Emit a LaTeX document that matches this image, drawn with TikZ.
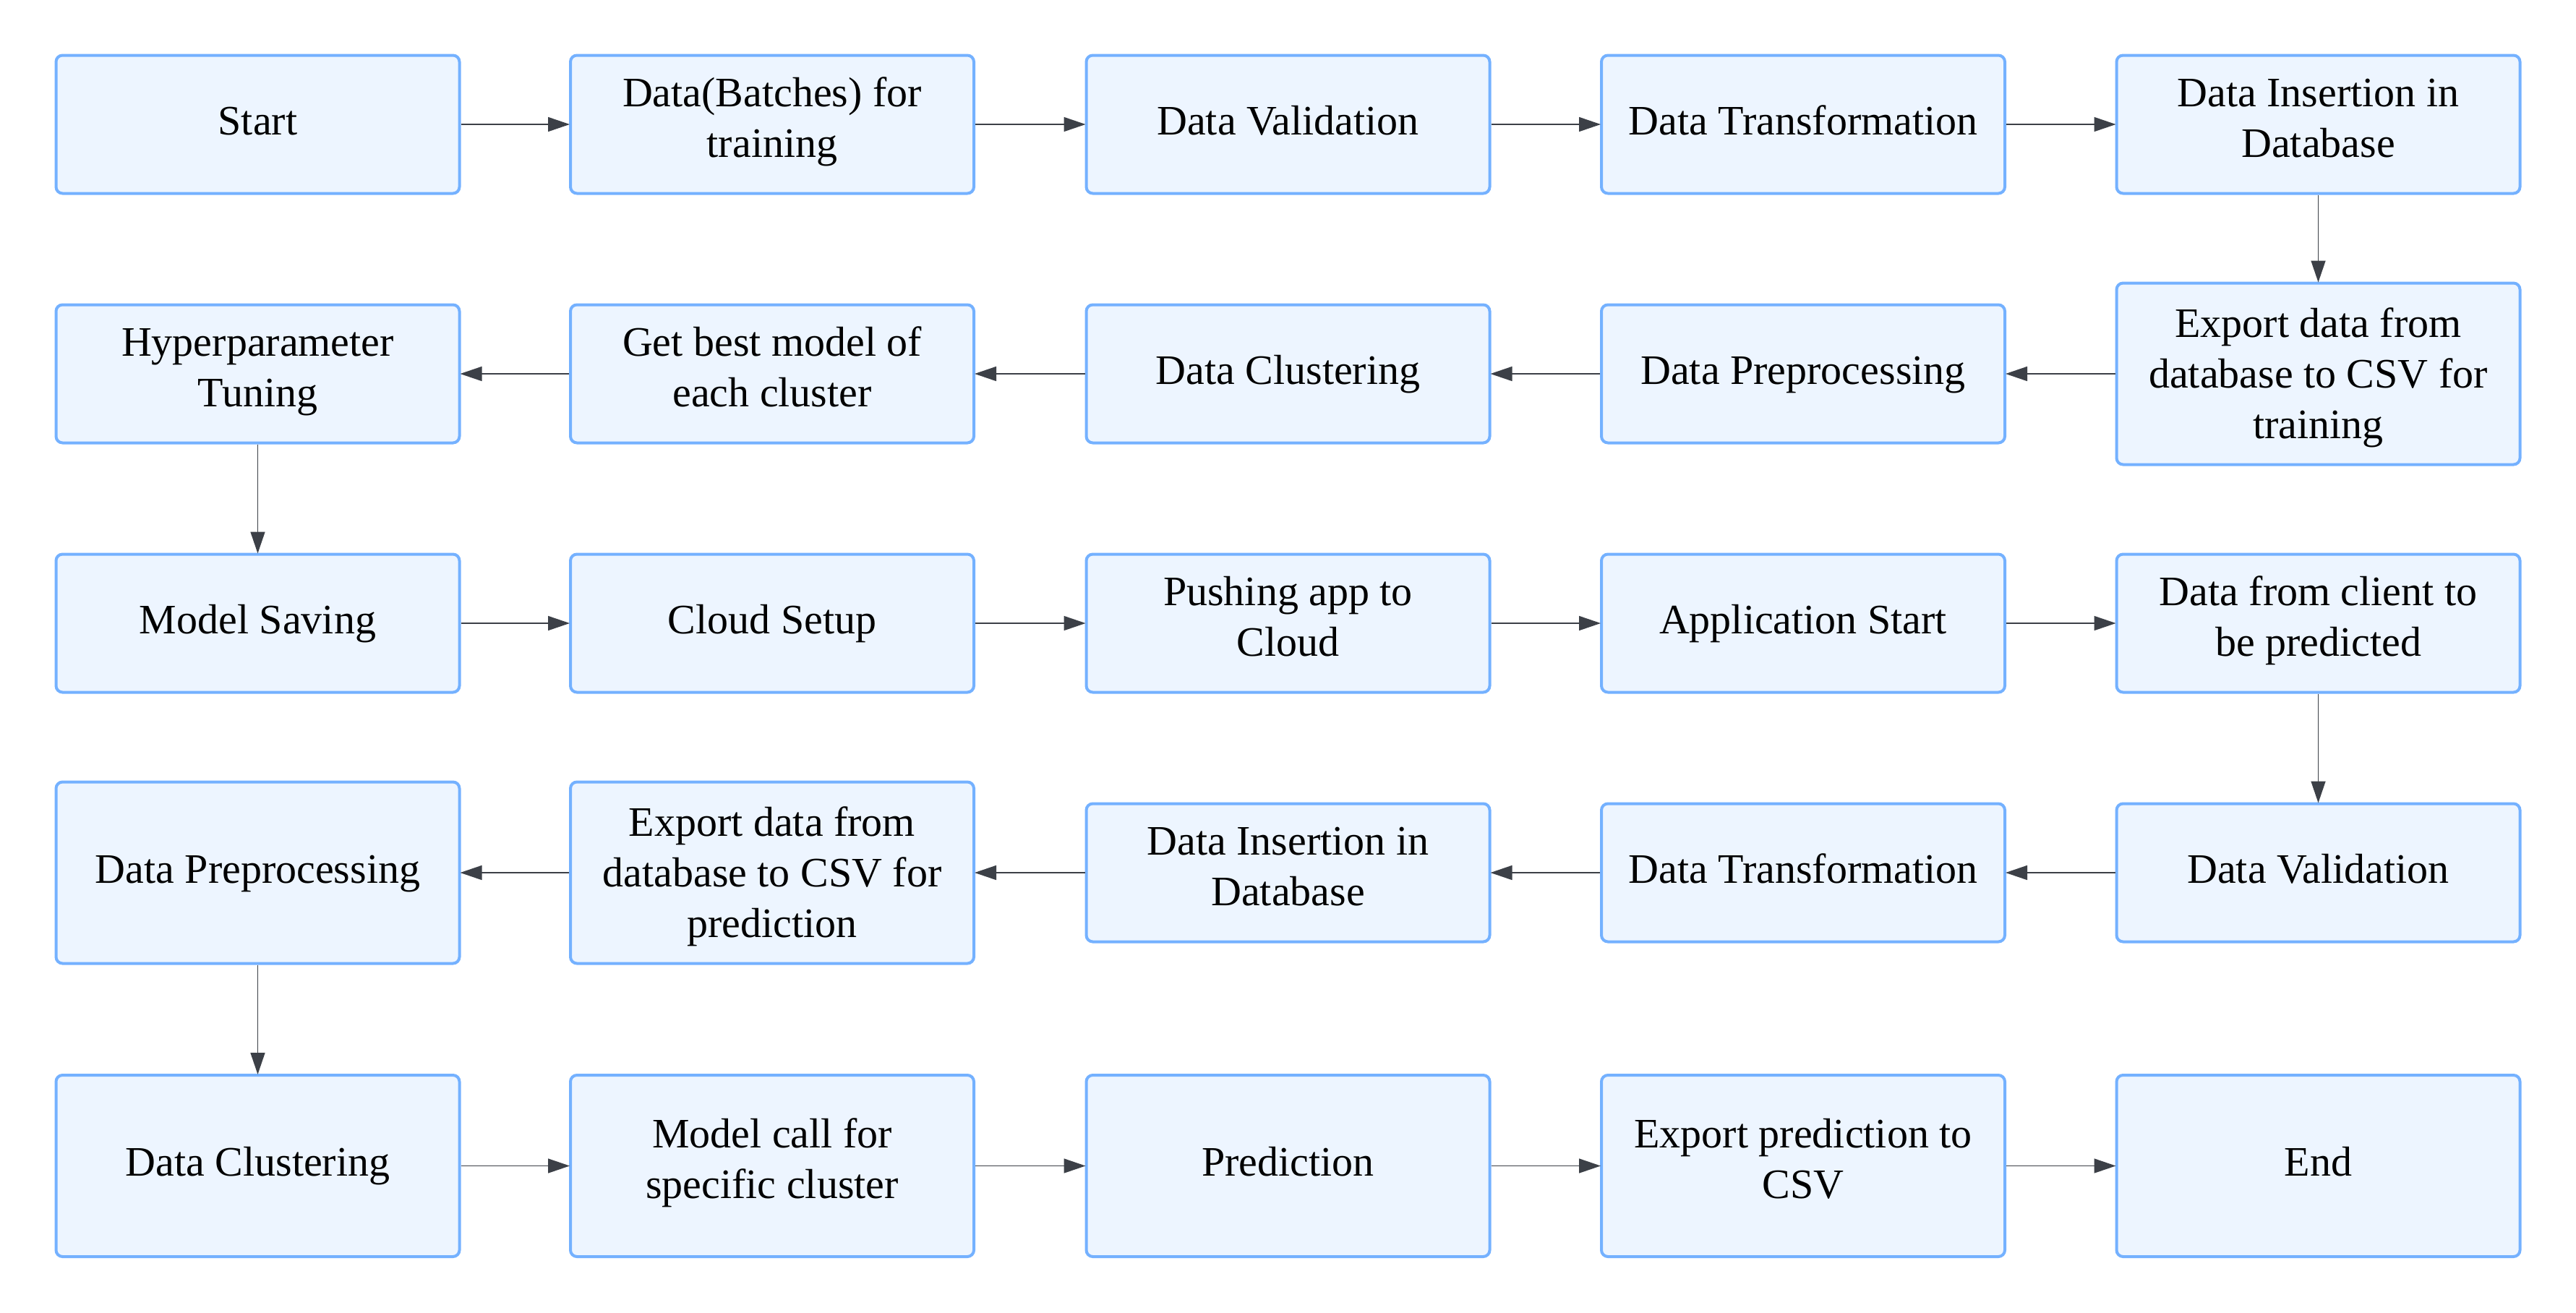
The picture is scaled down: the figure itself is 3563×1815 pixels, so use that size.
\documentclass[tikz,border=0pt]{standalone}
\usepackage{fontspec}
\setmainfont{Liberation Serif}
\usetikzlibrary{arrows.meta}
\definecolor{boxblue}{HTML}{74B1FF}
\definecolor{boxfill}{HTML}{EDF5FF}
\definecolor{arrowgray}{HTML}{3C4047}
\tikzset{
  box/.style={draw=boxblue, fill=boxfill, line width=4pt, rounded corners=9pt,
    minimum width=558pt, minimum height=191pt, align=center, inner sep=0pt,
    font=\fontsize{58}{70}\selectfont,
    execute at begin node={\rule{0pt}{50pt}},
    execute at end node={\rule[-22pt]{0pt}{22pt}}},
  tall/.style={minimum height=251pt},
  two/.style={execute at begin node={\rule{0pt}{112pt}}},
  three/.style={execute at begin node={\rule{0pt}{201pt}}},
  conn/.style={-{Triangle[length=30pt,width=20pt]}, line width=1.6pt, draw=arrowgray, shorten >=-1pt}
}
\begin{document}
\begin{tikzpicture}[x=1pt,y=-1pt]
\useasboundingbox (0,0) rectangle (3563,1815);
% row 1
\node[box] (a1) at (356.5,172) {Start};
\node[box,two] (a2) at (1068,172) {Data(Batches) for\\training};
\node[box] (a3) at (1781.5,172) {Data Validation};
\node[box] (a4) at (2494,172) {Data Transformation};
\node[box,two] (a5) at (3206.5,172) {Data Insertion in\\Database};
% row 2
\node[box,tall,three] (b5) at (3206.5,517) {Export data from\\database to CSV for\\training};
\node[box] (b4) at (2494,517) {Data Preprocessing};
\node[box] (b3) at (1781.5,517) {Data Clustering};
\node[box,two] (b2) at (1068,517) {Get best model of\\each cluster};
\node[box,two] (b1) at (356.5,517) {Hyperparameter\\Tuning};
% row 3
\node[box] (c1) at (356.5,862) {Model Saving};
\node[box] (c2) at (1068,862) {Cloud Setup};
\node[box,two] (c3) at (1781.5,862) {Pushing app to\\Cloud};
\node[box] (c4) at (2494,862) {Application Start};
\node[box,two] (c5) at (3206.5,862) {Data from client to\\be predicted};
% row 4
\node[box] (d5) at (3206.5,1207) {Data Validation};
\node[box] (d4) at (2494,1207) {Data Transformation};
\node[box,two] (d3) at (1781.5,1207) {Data Insertion in\\Database};
\node[box,tall,three] (d2) at (1068,1207) {Export data from\\database to CSV for\\prediction};
\node[box,tall] (d1) at (356.5,1207) {Data Preprocessing};
% row 5
\node[box,tall] (e1) at (356.5,1612.5) {Data Clustering};
\node[box,tall,two] (e2) at (1068,1612.5) {Model call for\\specific cluster};
\node[box,tall] (e3) at (1781.5,1612.5) {Prediction};
\node[box,tall,two] (e4) at (2494,1612.5) {Export prediction to\\CSV};
\node[box,tall] (e5) at (3206.5,1612.5) {End};
% connectors
\draw[conn] (a1) -- (a2);
\draw[conn] (a2) -- (a3);
\draw[conn] (a3) -- (a4);
\draw[conn] (a4) -- (a5);
\draw[conn] (a5) -- (b5);
\draw[conn] (b5) -- (b4);
\draw[conn] (b4) -- (b3);
\draw[conn] (b3) -- (b2);
\draw[conn] (b2) -- (b1);
\draw[conn] (b1) -- (c1);
\draw[conn] (c1) -- (c2);
\draw[conn] (c2) -- (c3);
\draw[conn] (c3) -- (c4);
\draw[conn] (c4) -- (c5);
\draw[conn] (c5) -- (d5);
\draw[conn] (d5) -- (d4);
\draw[conn] (d4) -- (d3);
\draw[conn] (d3) -- (d2);
\draw[conn] (d2) -- (d1);
\draw[conn] (d1) -- (e1);
\draw[conn] (e1) -- (e2);
\draw[conn] (e2) -- (e3);
\draw[conn] (e3) -- (e4);
\draw[conn] (e4) -- (e5);
\end{tikzpicture}
\end{document}
